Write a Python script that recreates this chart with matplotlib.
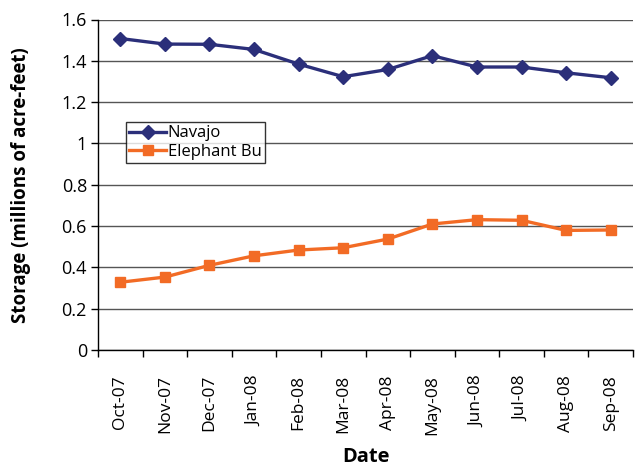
import matplotlib
matplotlib.use("Agg")
import matplotlib.pyplot as plt
import numpy as np

dates = ["Oct-07", "Nov-07", "Dec-07", "Jan-08", "Feb-08", "Mar-08",
         "Apr-08", "May-08", "Jun-08", "Jul-08", "Aug-08", "Sep-08"]
navajo = [1.508, 1.481, 1.480, 1.455, 1.384, 1.323, 1.358, 1.425, 1.370, 1.370, 1.342, 1.318]
elephant_butte = [0.328, 0.353, 0.410, 0.456, 0.484, 0.495, 0.537, 0.610, 0.631, 0.628, 0.579, 0.581]
series_labels = ["Navajo", "Elephant Bu"]
yticks = [0, 0.2, 0.4, 0.6, 0.8, 1, 1.2, 1.4, 1.6]
ytick_labels = ["0", "0.2", "0.4", "0.6", "0.8", "1", "1.2", "1.4", "1.6"]

plt.rcParams['font.family'] = ['Open Sans', 'DejaVu Sans']

fig = plt.figure(figsize=(6.37, 4.68), dpi=100)
ax = fig.add_axes([98/637, 1 - 350/468, (633-98)/637, (350-19.5)/468])

x = np.arange(len(dates))
ax.plot(x, navajo, color="#2B2F7A", lw=2.4, marker="D", ms=7, label=series_labels[0], zorder=3)
ax.plot(x, elephant_butte, color="#F26B25", lw=2.4, marker="s", ms=7.5, label=series_labels[1], zorder=3)

ax.set_xlim(-0.5, len(dates) - 0.5)
ax.set_ylim(0, 1.6)
ax.set_yticks(yticks)
ax.set_yticklabels(ytick_labels, fontsize=13)
ax.yaxis.grid(True, color="#555555", lw=1.0)
ax.set_axisbelow(True)

ax.set_xticks(np.arange(len(dates) + 1) - 0.5)
ax.set_xticklabels([])
ax.set_xticks(x, minor=True)
ax.set_xticklabels(dates, minor=True, rotation=90, fontsize=12.5)
ax.tick_params(axis="x", which="minor", length=0, pad=18)
ax.tick_params(axis="x", which="major", length=5, width=1, direction="out")
ax.tick_params(axis="y", length=5, width=1, direction="out", pad=3)

for s in ["top", "right"]:
    ax.spines[s].set_visible(False)
for s in ["left", "bottom"]:
    ax.spines[s].set_color("black")
    ax.spines[s].set_linewidth(1.0)

ax.set_ylabel("Storage (millions of acre-feet)", fontsize=13.5, fontweight="bold", labelpad=22)
ax.set_xlabel("Date", fontsize=14.5, fontweight="bold", labelpad=9)

leg = ax.legend(loc="upper left", bbox_to_anchor=((126-98)/535, (350-122)/330.5),
                fontsize=12, frameon=True, fancybox=False, borderpad=0.2,
                handlelength=2.2, handletextpad=0.1, labelspacing=0.15, borderaxespad=0)
leg.get_frame().set_edgecolor("black")
leg.get_frame().set_linewidth(1.0)

fig.savefig("out.png", dpi=100)
